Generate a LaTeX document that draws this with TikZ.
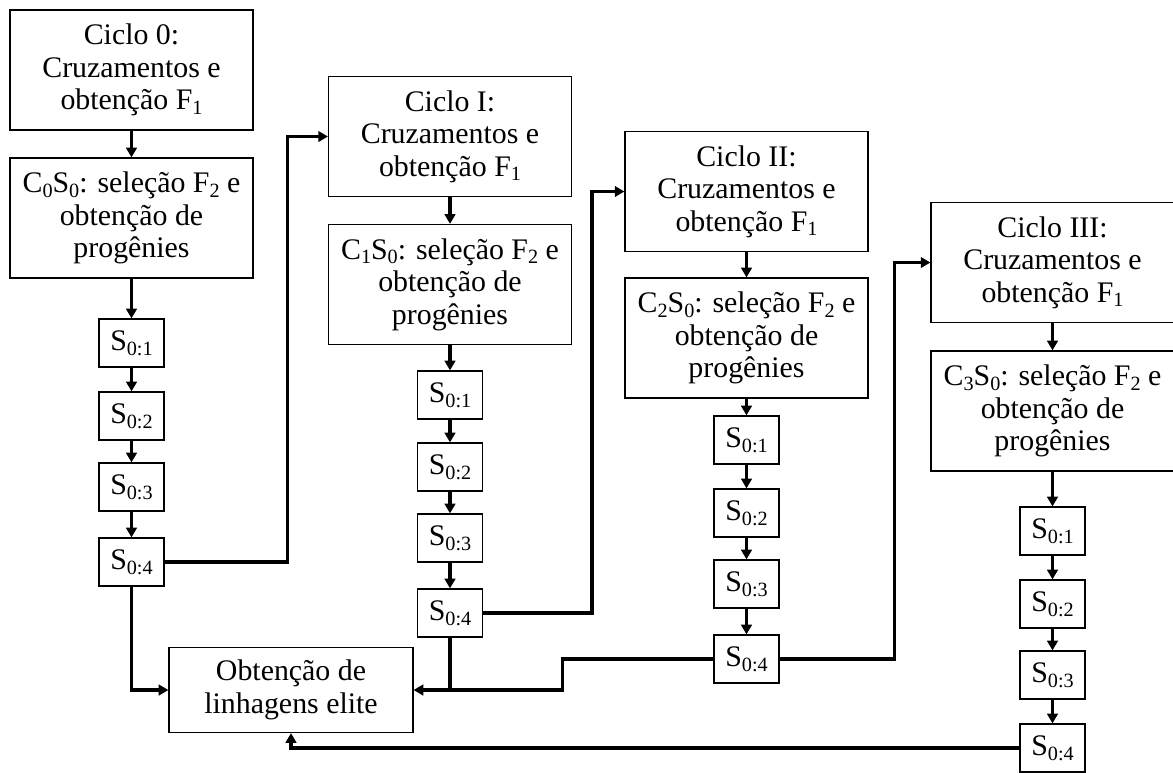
\documentclass[tikz,border=0pt]{standalone}
\usepackage{fontspec}
\setmainfont{Liberation Serif}
\usetikzlibrary{arrows.meta}

\newcommand{\idx}[1]{\raisebox{-0.35ex}{\fontsize{11.5}{12}\selectfont #1}}

\tikzset{
  cyclebox/.style={draw, line width=0.7pt, minimum width=4.86cm, minimum height=2.4cm,
    align=center, inner sep=2pt, font=\fontsize{17}{18.5}\selectfont},
  selbox/.style={draw, line width=0.7pt, minimum width=1.3cm, minimum height=0.96cm,
    inner sep=1pt, font=\fontsize{17}{18.5}\selectfont},
  elitebox/.style={cyclebox, minimum width=4.88cm, minimum height=1.7cm},
  link/.style={line width=1.9pt},
  flow/.style={link, -{Triangle[length=5.5pt,width=6pt]}}
}

\begin{document}
\begin{tikzpicture}[x=0.02cm, y=-0.02cm]
  \useasboundingbox (0,0) rectangle (1173,772);
  % ciclos de selecao
  \node[cyclebox] (c0) at (131.5,70) {Ciclo 0:\\Cruzamentos e\\obtenção F\idx{1}};
  \node[cyclebox] (p0) at (131.5,218) {C\idx{0}S\idx{0}: seleção F\idx{2} e\\obtenção de\\progênies};
  \node[cyclebox] (c1) at (450,136.5) {Ciclo I:\\Cruzamentos e\\obtenção F\idx{1}};
  \node[cyclebox] (p1) at (450,284.5) {C\idx{1}S\idx{0}: seleção F\idx{2} e\\obtenção de\\progênies};
  \node[cyclebox] (c2) at (746.5,191.5) {Ciclo II:\\Cruzamentos e\\obtenção F\idx{1}};
  \node[cyclebox] (p2) at (746.5,338) {C\idx{2}S\idx{0}: seleção F\idx{2} e\\obtenção de\\progênies};
  \node[cyclebox] (c3) at (1052.5,262.5) {Ciclo III:\\Cruzamentos e\\obtenção F\idx{1}};
  \node[cyclebox] (p3) at (1052.5,411) {C\idx{3}S\idx{0}: seleção F\idx{2} e\\obtenção de\\progênies};
  \node[elitebox] (elite) at (291,690) {Obtenção de\\linhagens elite};

  % geracoes de autofecundacao
  \foreach \col/\x/\ya/\yb/\yc/\yd in {0/131.5/343/416/487/562, 1/450/395/467/538/613,
      2/746.5/440/513/584/659, 3/1052.5/531/604/675/748} {
    \node[selbox] (s\col1) at (\x,\ya) {S\idx{0:1}};
    \node[selbox] (s\col2) at (\x,\yb) {S\idx{0:2}};
    \node[selbox] (s\col3) at (\x,\yc) {S\idx{0:3}};
    \node[selbox] (s\col4) at (\x,\yd) {S\idx{0:4}};
    \draw[flow] (c\col) -- (p\col);
    \draw[flow] (p\col) -- (s\col1);
    \draw[flow] (s\col1) -- (s\col2);
    \draw[flow] (s\col2) -- (s\col3);
    \draw[flow] (s\col3) -- (s\col4);
  }

  % ligacoes entre ciclos
  \draw[flow] (s04.east) -- ++(123,0) |- (c1.west);
  \draw[flow] (s14.east) -- ++(109,0) |- (c2.west);
  \draw[flow] (s24.east) -- ++(115,0) |- (c3.west);
  \draw[flow] (s04.south) |- (elite.west);
  \draw[link] (s14.south) -- (s14.south |- elite.west);
  \draw[flow] (s24.west) -- ++(-151,0) |- (elite.east);
  \draw[flow] (s34.west) -| (elite.south);
\end{tikzpicture}
\end{document}
